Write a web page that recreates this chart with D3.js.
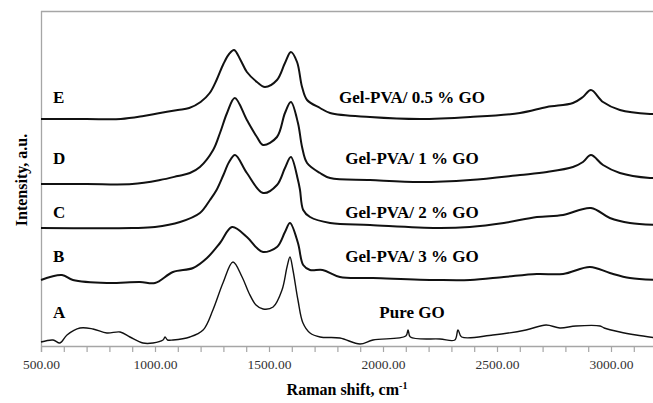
<!DOCTYPE html>
<html>
<head>
<meta charset="utf-8">
<script src="https://cdn.jsdelivr.net/npm/d3@7"></script>
<style>
  body { margin: 0; background: #fff; }
  text { font-family: "Liberation Serif", "Times New Roman", serif; }
</style>
</head>
<body>
<div id="chart"></div>
<script>
const svgWidth = 653;
const svgHeight = 403;

// Raman spectra, [shift cm-1, intensity a.u.] (stacked offsets included)
const specE = [[500,227],[700,227],[850,227],[950,230],[1022,233],[1100,236],[1150,238],[1200,244],[1240,253],[1270,266],[1300,282],[1325,292],[1347,296],[1375,286],[1403,274],[1447,264],[1482,259],[1535,266],[1570,283],[1596,294],[1623,284],[1645,259],[1667,246],[1724,238],[1768,233],[1943,229],[2162,227],[2382,229],[2601,233],[2719,239],[2833,243],[2877,249],[2912,256],[2965,244],[3039,236],[3171,232],[3200,232]];
const specD = [[500,162],[700,162],[900,162],[1022,166],[1100,170],[1153,173],[1197,179],[1255,196],[1285,213],[1316,233],[1350,248],[1403,226],[1447,209],[1474,201],[1535,209],[1570,233],[1596,244],[1627,223],[1645,199],[1667,183],[1724,173],[1768,168],[1943,166],[2162,164],[2382,166],[2601,171],[2719,174],[2833,179],[2877,184],[2912,191],[2965,181],[3039,173],[3171,168],[3200,168]];
const specC = [[500,118],[900,118],[1000,119],[1110,124],[1197,133],[1241,146],[1270,156],[1300,171],[1325,184],[1351,191],[1403,173],[1474,153],[1535,161],[1570,178],[1596,189],[1627,166],[1636,156],[1650,136],[1680,129],[1768,123],[1943,121],[2237,118],[2380,119],[2530,123],[2675,129],[2790,131],[2912,138],[2995,128],[3083,123],[3200,121]];
const specB = [[500,66],[592,71],[640,66],[789,63],[934,64],[1000,63],[1079,74],[1167,78],[1228,88],[1285,103],[1338,119],[1403,109],[1447,98],[1474,94],[1535,99],[1570,114],[1592,123],[1627,103],[1650,81],[1680,76],[1735,76],[1811,69],[1956,68],[2237,66],[2382,66],[2530,69],[2675,72],[2790,72],[2908,79],[2995,73],[3083,68],[3200,66]];
const specA = [[500,4],[553,6],[583,3],[614,11],[671,18],[728,17],[789,13],[847,14],[890,9],[947,3],[991,3],[1035,6],[1044,9],[1055,6],[1079,6],[1153,9],[1211,16],[1254,36],[1298,63],[1342,84],[1382,69],[1412,53],[1443,41],[1474,37],[1518,39],[1557,56],[1579,79],[1592,89],[1605,76],[1627,46],[1649,23],[1680,13],[1724,9],[1811,8],[1899,2],[1956,6],[2100,10],[2110,16],[2120,9],[2250,7],[2315,6],[2329,16],[2345,9],[2482,11],[2627,16],[2715,21],[2776,18],[2846,20],[2952,20],[2970,18],[3039,14],[3110,11],[3200,8]];

const letters = ["E", "D", "C", "B", "A"];
const names = ["Gel-PVA/ 0.5 % GO", "Gel-PVA/ 1 % GO", "Gel-PVA/ 2 % GO", "Gel-PVA/ 3 % GO", "Pure GO"];
const labelLevel = [243, 182, 128, 84, 28]; // intensity where each label sits
const xTicks = d3.range(500, 3201, 100);

const svg = d3.select("#chart").append("svg")
  .attr("width", svgWidth)
  .attr("height", svgHeight);

const x = d3.scaleLinear().domain([500, 3200]).range([41, 656.6]);
const y = d3.scaleLinear().domain([0, 335]).range([346, 11]);

// frame: top and left lines
svg.append("line")
  .attr("x1", 41).attr("x2", svgWidth).attr("y1", 11.5).attr("y2", 11.5)
  .attr("stroke", "#a6a6a6").attr("stroke-width", 1.3);
svg.append("line")
  .attr("x1", 41.5).attr("x2", 41.5).attr("y1", 11).attr("y2", 346)
  .attr("stroke", "#a6a6a6").attr("stroke-width", 1.3);

// x axis
const xAxis = svg.append("g")
  .attr("transform", "translate(0,346)")
  .call(d3.axisBottom(x)
    .tickValues(xTicks)
    .tickSize(6)
    .tickPadding(7)
    .tickFormat(d => d % 500 === 0 ? d.toFixed(2) : ""));
xAxis.select(".domain").attr("stroke", "#a6a6a6").attr("stroke-width", 1.3);
xAxis.selectAll(".tick line").attr("stroke", "#a6a6a6").attr("stroke-width", 1.2);
xAxis.selectAll(".tick text")
  .attr("fill", "#333")
  .style("font-size", "13.5px")
  .style("font-family", "'Liberation Serif', serif");

// spectra
const line = d3.line()
  .x(d => x(d[0]))
  .y(d => y(d[1]))
  .curve(d3.curveCatmullRom.alpha(0.5));

const spectra = [specE, specD, specC, specB, specA];
svg.append("g").selectAll("path")
  .data(spectra)
  .join("path")
  .attr("d", line)
  .attr("fill", "none")
  .attr("stroke", "#111")
  .attr("stroke-width", (d, i) => i === 4 ? 1.4 : 2)
  .attr("stroke-linejoin", "round");

// letters and sample names
svg.append("g").selectAll("text")
  .data(letters)
  .join("text")
  .attr("x", 53)
  .attr("y", (d, i) => y(labelLevel[i]))
  .style("font-size", "17px")
  .style("font-weight", "bold")
  .text(d => d);

svg.append("g").selectAll("text")
  .data(names)
  .join("text")
  .attr("x", 412)
  .attr("y", (d, i) => y(labelLevel[i]))
  .attr("text-anchor", "middle")
  .style("font-size", "17px")
  .style("font-weight", "bold")
  .text(d => d);

// axis titles
svg.append("text")
  .attr("transform", "translate(27,180) rotate(-90)")
  .attr("text-anchor", "middle")
  .style("font-size", "16px")
  .style("font-weight", "bold")
  .text("Intensity, a.u.");

const xTitle = svg.append("text")
  .attr("x", 347)
  .attr("y", 395)
  .attr("text-anchor", "middle")
  .style("font-size", "16px")
  .style("font-weight", "bold");
xTitle.append("tspan").text("Raman shift, cm");
xTitle.append("tspan").attr("dy", -6).style("font-size", "10px").text("-1");
</script>
</body>
</html>
